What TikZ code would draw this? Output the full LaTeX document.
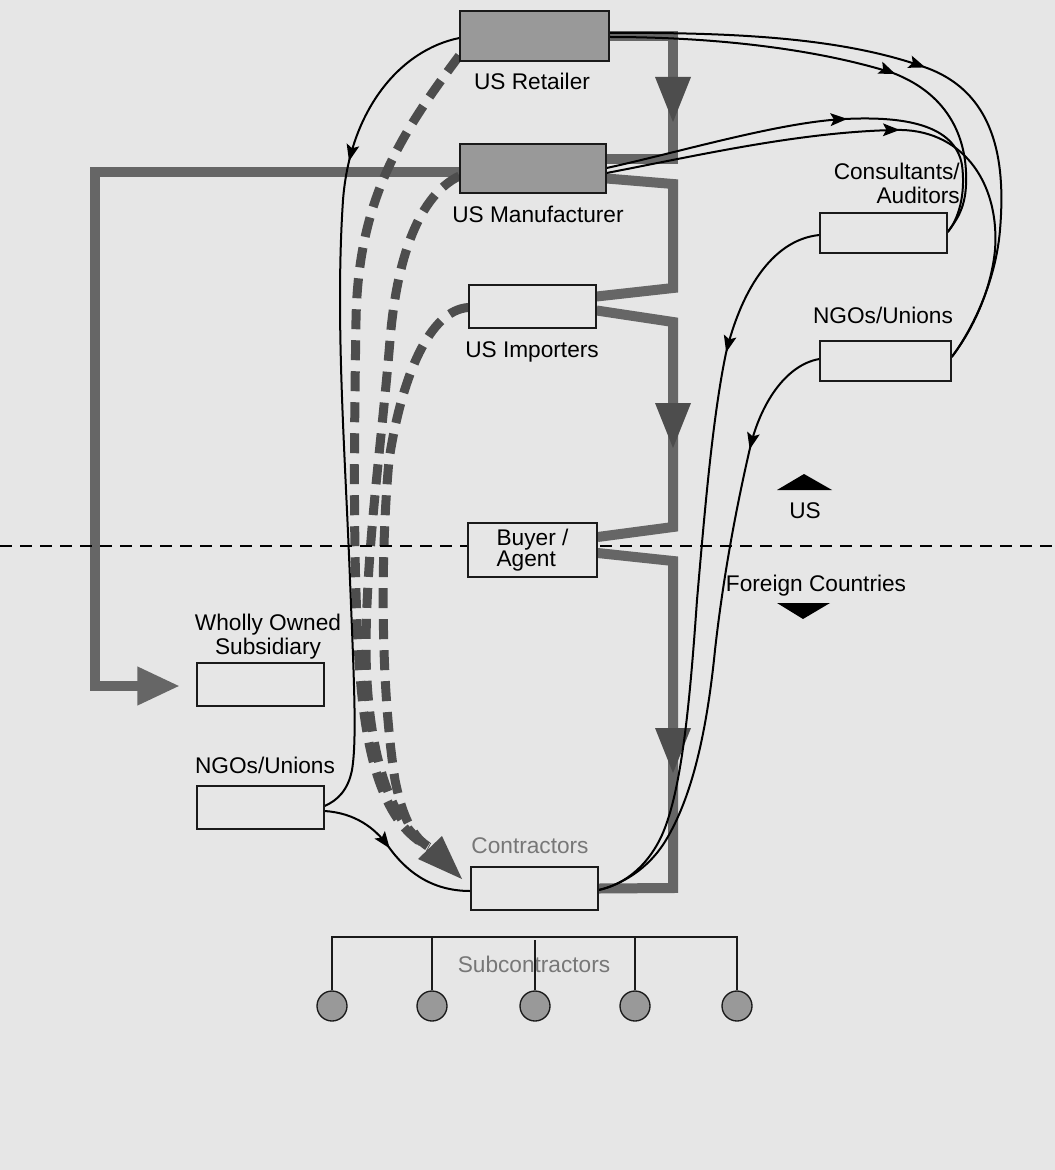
\documentclass[tikz,border=0pt]{standalone}
\usepackage{fontspec}
\setmainfont{Liberation Sans}
\usetikzlibrary{calc,decorations.markings,arrows.meta}
\pgfdeclarelayer{back}
\pgfdeclarelayer{mid}
\pgfsetlayers{back,mid,main}
\definecolor{bgc}{HTML}{E6E6E6}
\definecolor{flowc}{HTML}{666666}
\definecolor{darkc}{HTML}{4D4D4D}
\definecolor{boxg}{HTML}{999999}
\definecolor{edgec}{HTML}{1A1A1A}
\definecolor{labg}{HTML}{777777}
\begin{document}
\begin{tikzpicture}[x=0.75pt,y=-0.75pt,
  font=\fontsize{17pt}{16pt}\selectfont,
  box/.style={draw=edgec, line width=1pt, fill=bgc, inner sep=0pt, minimum width=95.25pt, minimum height=32.25pt},
  gbox/.style={box, fill=boxg},
  lab/.style={inner sep=0pt, anchor=base},
  flow/.style={draw=flowc, line width=7.5pt, line join=miter},
  dflow/.style={draw=darkc, line width=6.75pt, dash pattern=on 15pt off 8.25pt},
  link/.style={draw=black, line width=1.5pt},
  midarr/.style={postaction={decorate}, decoration={markings, mark=at position #1 with {\arrow{Stealth[length=12.5pt,width=9.5pt,inset=2.5pt]}}}},
  subc/.style={circle, draw=edgec, line width=1pt, fill=boxg, inner sep=0pt, minimum size=22.5pt},
  tree/.style={draw=edgec, line width=1.1pt}
]
\begin{pgfonlayer}{back}
\fill[bgc] (0,0) rectangle (1055,1170);
\end{pgfonlayer}
\useasboundingbox (0,0) rectangle (1055,1170);

% boxes
\node[gbox, minimum width=111.75pt, minimum height=37.5pt] (ret) at (534.5,36) {};
\node[gbox, minimum width=109.5pt, minimum height=36.75pt] (man) at (533,168.5) {};
\node[box] (imp) at (532.5,306.5) {};
\node[box, minimum width=96.75pt, minimum height=40.5pt, align=left, font=\fontsize{17pt}{15.75pt}\selectfont] (buy) at (532.5,550) {Buyer /\\Agent};
\node[box] (wos) at (260.5,684.5) {};
\node[box] (ngoL) at (260.5,807.5) {};
\node[box] (con) at (534.5,888.5) {};
\node[box, minimum height=30pt] (cons) at (883.5,233) {};
\node[box, minimum width=98.25pt, minimum height=30pt] (ngoR) at (885.5,361) {};

% labels
\node[lab] (retL) at (532,90) {US Retailer};
\node[lab] (manL) at (538,222) {US Manufacturer};
\node[lab] (impL) at (532,357) {US Importers};
\node[lab] (wosL1) at (268,630) {Wholly Owned};
\node[lab] (wosL2) at (268,654) {Subsidiary};
\node[lab] (ngoLL) at (265,773) {NGOs/Unions};
\node[lab, text=labg] (conL) at (530,853) {Contractors};
\node[lab, anchor=base east] (consL1) at (960,180) {Consultants/};
\node[lab, anchor=base east] (consL2) at (960,203) {Auditors};
\node[lab] (ngoRL) at (883,323) {NGOs/Unions};
\node[lab] (usL) at (805,518) {US};
\node[lab] (forL) at (816,591) {Foreign Countries};
\node[lab, text=labg] (subL) at (534,972) {Subcontractors};

% US / foreign markers
\fill[black] (777,490) -- (832,490) -- (804,474) -- cycle;
\fill[black] (777,603) -- (830,603) -- (803,619) -- cycle;

% subcontractors
\node[subc] (s1) at (332,1006) {};
\node[subc] (s2) at (432,1006) {};
\node[subc] (s3) at (535,1006) {};
\node[subc] (s4) at (635,1006) {};
\node[subc] (s5) at (737,1006) {};
\coordinate (tl) at (332,937);
\coordinate (tr) at (737,937);
\draw[tree] (s1.north) -- (tl) -- (tr) -- (s5.north);
\draw[tree] (s2.north) -- (s2.north |- tl);
\draw[tree] (s3.north) -- ($(s3.north |- tl)+(0,3)$);
\draw[tree] (s4.north) -- (s4.north |- tl);

\begin{pgfonlayer}{mid}
% thick flows
\draw[flow] (ret.east) -- (673,36) -- (673,159) -- ($(man.east)+(0,-9.5)$);
\draw[flow] ($(man.east)+(0,10)$) -- (673,184) -- (673,288) -- ($(imp.east)+(0,-10)$);
\draw[flow] ($(imp.east)+(0,4)$) -- (673,322) -- (673,527) -- ($(buy.east)+(0,-13)$);
\draw[flow] ($(buy.east)+(0,3)$) -- (673,561) -- (673,888) -- (con.east);
\coordinate (subTip) at (180,686);
\draw[flow, -{Triangle[length=32pt,width=27pt]}] ($(man.west)+(0,3.5)$) -- (95,172) -- (95,686) -- (subTip);
\fill[darkc] (655,77) -- (691,77) -- (673,122) -- cycle;
\fill[darkc] (655,403) -- (691,403) -- (673,448) -- cycle;
\fill[darkc] (655,728) -- (691,728) -- (673,773) -- cycle;

% dashed flows
\coordinate (dEnd) at (429,847);
\draw[dflow] ($(ret.south west)+(0,-6)$) .. controls (400,135) and (358,200) .. (356,320) .. controls (354,450) and (353,560) .. (359,660) .. controls (365,760) and (385,825) .. (dEnd);
\draw[dflow] ($(man.west)+(0,7.5)$) .. controls (420,195) and (397,255) .. (390,340) .. controls (382,440) and (366,550) .. (366,650) .. controls (367,760) and (394,828) .. (dEnd);
\draw[dflow] ($(imp.west)+(0,1)$) .. controls (430,310) and (402,375) .. (389,460) .. controls (380,560) and (381,690) .. (395,780) .. controls (403,820) and (414,838) .. (dEnd);
\fill[darkc] (462,879) -- (418,859) -- (442,836) -- cycle;

% border line
\draw[black, line width=1.9pt, dash pattern=on 9pt off 6pt] (0,546) -- (1055,546);

% black links
\draw[link, midarr=0.21] ($(ret.west)+(0,2)$) .. controls (400,50) and (350,110) .. (343,200) .. controls (335,320) and (345,450) .. (350,580) .. controls (354,680) and (357,740) .. (352,770) .. controls (348,790) and (338,800) .. ($(ngoL.east)+(0,-1.5)$);
\draw[link, midarr=0.45] ($(ngoL.east)+(0,3.5)$) .. controls (355,813) and (375,828) .. (388,846) .. controls (405,870) and (430,891) .. ($(con.west)+(0,2.5)$);
\draw[link, midarr=0.49] ($(ret.east)+(0,-3)$) .. controls (750,32) and (850,40) .. (927,68) .. controls (1000,95) and (1005,170) .. (1000,230) .. controls (995,290) and (965,340) .. ($(ngoR.east)+(0,-4)$);
\draw[link, midarr=0.6] ($(ret.east)+(0,1)$) .. controls (720,37) and (820,50) .. (893,73) .. controls (950,95) and (968,140) .. (966,185) .. controls (965,210) and (955,222) .. ($(cons.east)+(0,-1)$);
\draw[link, midarr=0.545] ($(man.east)+(0,-0.5)$) .. controls (680,152) and (780,122) .. (845,119) .. controls (905,116) and (955,125) .. (962,165) .. controls (966,195) and (958,220) .. ($(cons.east)+(0,-1)$);
\draw[link, midarr=0.505] ($(man.east)+(0,4.5)$) .. controls (700,155) and (800,132) .. (895,130) .. controls (960,128) and (1000,180) .. (995,250) .. controls (990,300) and (965,340) .. ($(ngoR.east)+(0,-4)$);
\draw[link, midarr=0.217] ($(cons.west)+(0,2)$) .. controls (770,240) and (740,295) .. (726,353) .. controls (712,420) and (704,520) .. (697,600) .. controls (690,700) and (682,790) .. (662,835) .. controls (645,872) and (618,886) .. ($(con.east)+(0,1.5)$);
\draw[link, midarr=0.198] ($(ngoR.west)+(0,-2)$) .. controls (785,365) and (760,405) .. (750,448) .. controls (738,500) and (724,570) .. (715,650) .. controls (706,740) and (690,800) .. (666,840) .. controls (648,870) and (620,885) .. ($(con.east)+(0,1.5)$);
\end{pgfonlayer}
\end{tikzpicture}
\end{document}
